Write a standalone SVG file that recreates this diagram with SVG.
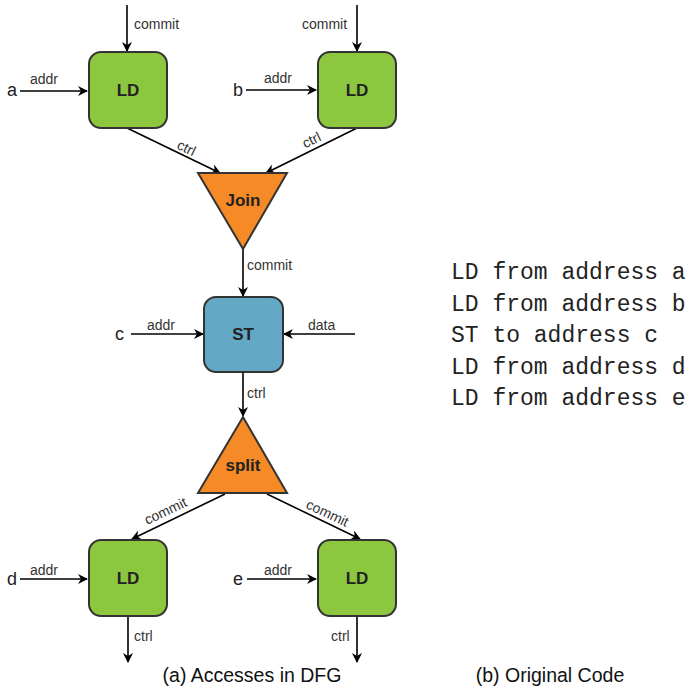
<svg xmlns="http://www.w3.org/2000/svg" width="689" height="689" viewBox="0 0 689 689">
<defs>
<marker id="arr" viewBox="0 0 10 10" refX="9" refY="5" markerWidth="10" markerHeight="10" markerUnits="userSpaceOnUse" orient="auto">
<path d="M0,0 L10,5 L0,10 L3,5 Z" fill="#000"/>
</marker>
<style>
.box{stroke:#333;stroke-width:2}
.ld{fill:#8DC63F}
.st{fill:#63A9C5}
.tri{fill:#F58A27;stroke:#333;stroke-width:2;stroke-linejoin:miter}
.nt{font-family:"Liberation Sans",Arial,sans-serif;font-weight:bold;font-size:17px;fill:#222;text-anchor:middle}
.lbl{font-family:"Liberation Sans",Arial,sans-serif;font-size:14px;fill:#333}
.var{font-family:"Liberation Sans",Arial,sans-serif;font-size:18px;fill:#222}
.cap{font-family:"Liberation Sans",Arial,sans-serif;font-size:19.5px;fill:#111;text-anchor:middle}
.code{font-family:"Liberation Mono","Courier New",monospace;font-size:23px;fill:#222}
.c{stroke:#000;stroke-width:1.6;fill:none;marker-end:url(#arr)}
</style>
</defs>
<rect width="689" height="689" fill="#fff"/>

<g id="connectors">
<line class="c" x1="127" y1="5" x2="127" y2="51"/>
<line class="c" x1="357" y1="5" x2="357" y2="51"/>
<line class="c" x1="20" y1="91" x2="87" y2="91"/>
<line class="c" x1="246" y1="90" x2="316" y2="90"/>
<line class="c" x1="127" y1="128" x2="220" y2="173"/>
<line class="c" x1="357" y1="128" x2="266" y2="173"/>
<line class="c" x1="243" y1="249" x2="243" y2="296"/>
<line class="c" x1="131" y1="334" x2="203" y2="334"/>
<line class="c" x1="355" y1="334" x2="284" y2="334"/>
<line class="c" x1="243" y1="372" x2="243" y2="416"/>
<line class="c" x1="225" y1="494" x2="132" y2="539"/>
<line class="c" x1="267" y1="494" x2="360" y2="539"/>
<line class="c" x1="20" y1="579" x2="87" y2="579"/>
<line class="c" x1="247" y1="579" x2="316" y2="579"/>
<line class="c" x1="128" y1="616" x2="128" y2="662"/>
<line class="c" x1="357" y1="616" x2="357" y2="662"/>
<text class="lbl" x="134" y="29">commit</text>
<text class="lbl" x="302" y="29">commit</text>
<text class="lbl" x="30" y="84">addr</text>
<text class="lbl" x="264" y="83">addr</text>
<text class="lbl" x="186" y="149" text-anchor="middle" dominant-baseline="middle" transform="rotate(25.8 186 149)">ctrl</text>
<text class="lbl" x="312" y="141" text-anchor="middle" dominant-baseline="middle" transform="rotate(-26.3 312 141)">ctrl</text>
<text class="lbl" x="247" y="270">commit</text>
<text class="lbl" x="147" y="330">addr</text>
<text class="lbl" x="308" y="330">data</text>
<text class="lbl" x="247" y="398">ctrl</text>
<text class="lbl" x="166" y="512" text-anchor="middle" dominant-baseline="middle" transform="rotate(-25.3 166 512)">commit</text>
<text class="lbl" x="327" y="514" text-anchor="middle" dominant-baseline="middle" transform="rotate(25.3 327 514)">commit</text>
<text class="lbl" x="30" y="575">addr</text>
<text class="lbl" x="264" y="575">addr</text>
<text class="lbl" x="134" y="641">ctrl</text>
<text class="lbl" x="331" y="641">ctrl</text>
</g>

<g id="var-a"><text class="var" x="7" y="96">a</text></g>
<g id="var-b"><text class="var" x="233" y="96">b</text></g>
<g id="var-c"><text class="var" x="115" y="340">c</text></g>
<g id="var-d"><text class="var" x="7" y="585">d</text></g>
<g id="var-e"><text class="var" x="233" y="585">e</text></g>

<g id="ld-a"><rect class="box ld" x="89" y="52" width="78" height="76" rx="12"/><text class="nt" x="128" y="96">LD</text></g>
<g id="ld-b"><rect class="box ld" x="318" y="52" width="78" height="76" rx="12"/><text class="nt" x="357" y="96">LD</text></g>
<g id="join"><polygon class="tri" points="198,173 287,173 243,249"/><text class="nt" x="243" y="206">Join</text></g>
<g id="st"><rect class="box st" x="204" y="297" width="79" height="75" rx="12"/><text class="nt" x="243" y="340">ST</text></g>
<g id="split"><polygon class="tri" points="243,417 198,493 287,493"/><text class="nt" x="243" y="471">split</text></g>
<g id="ld-d"><rect class="box ld" x="89" y="540" width="78" height="76" rx="12"/><text class="nt" x="128" y="584">LD</text></g>
<g id="ld-e"><rect class="box ld" x="318" y="540" width="78" height="76" rx="12"/><text class="nt" x="357" y="584">LD</text></g>

<g id="code">
<text class="code" x="451" y="279">LD from address a</text>
<text class="code" x="451" y="310.5">LD from address b</text>
<text class="code" x="451" y="342">ST to address c</text>
<text class="code" x="451" y="373.5">LD from address d</text>
<text class="code" x="451" y="405">LD from address e</text>
</g>

<g id="captions">
<text class="cap" x="252" y="682">(a) Accesses in DFG</text>
<text class="cap" x="550" y="682">(b) Original Code</text>
</g>
</svg>
